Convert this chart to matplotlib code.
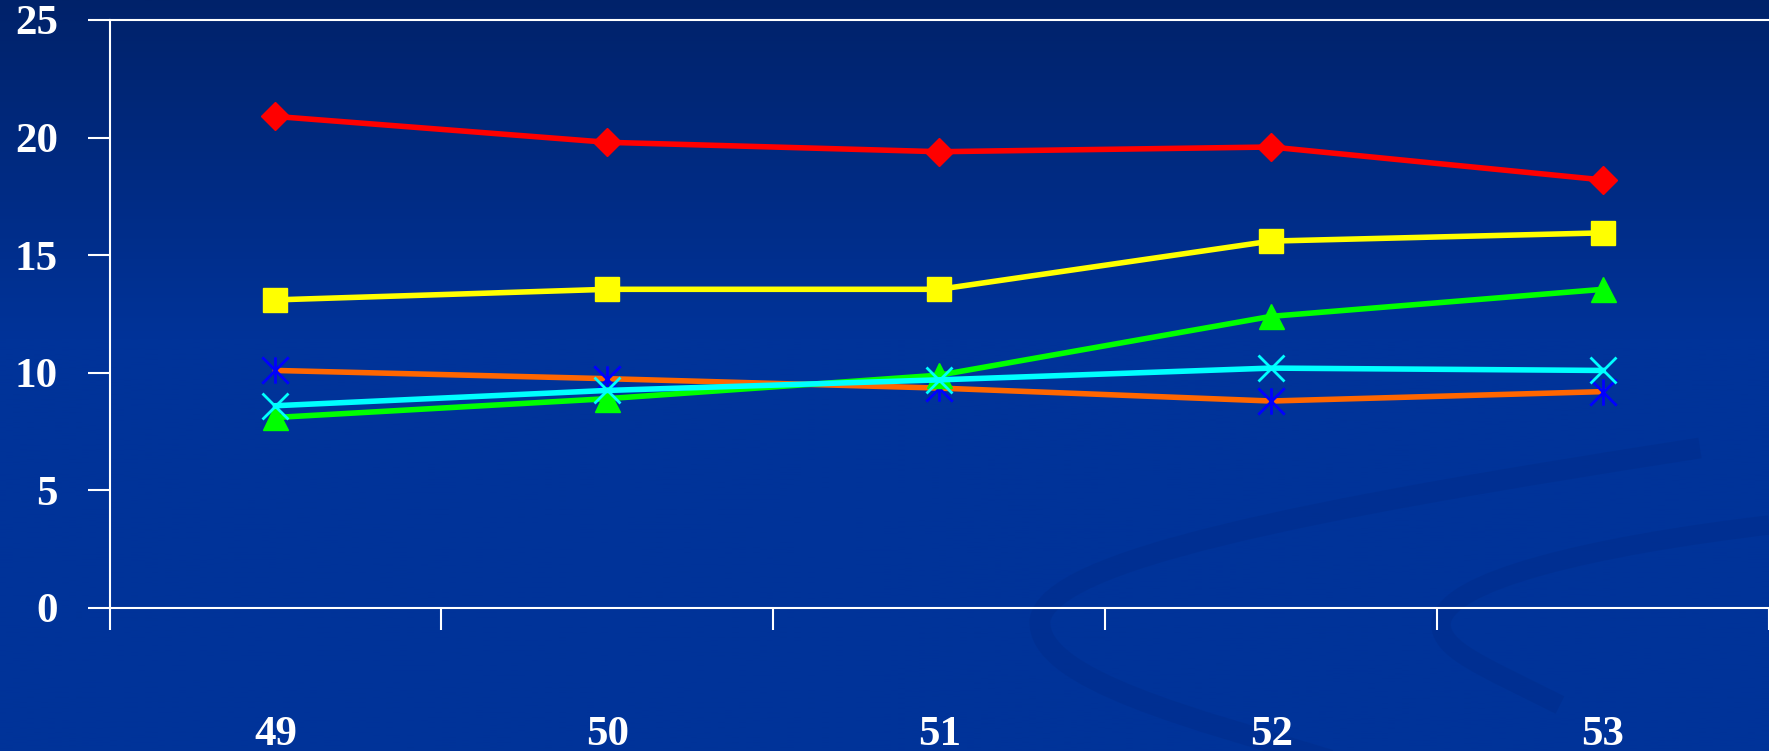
import matplotlib.pyplot as plt
import numpy as np
from matplotlib.path import Path
from matplotlib.patches import PathPatch

# 数据部分
categories = ["49", "50", "51", "52", "53"]
red_vals = [20.9, 19.8, 19.4, 19.6, 18.2]
yellow_vals = [13.1, 13.55, 13.55, 15.6, 15.95]
green_vals = [8.1, 8.9, 9.9, 12.4, 13.55]
cyan_vals = [8.6, 9.25, 9.7, 10.2, 10.1]
orange_vals = [10.1, 9.75, 9.35, 8.8, 9.2]
y_ticks = [0, 5, 10, 15, 20, 25]

plt.rcParams['font.family'] = ['Liberation Serif', 'DejaVu Serif']
plt.rcParams['font.weight'] = 'bold'

W, H = 1769, 751
fig = plt.figure(figsize=(W / 100, H / 100), dpi=100)

# 背景渐变 + 装饰弧线
bg = fig.add_axes([0, 0, 1, 1], zorder=-10)
bg.set_xlim(0, W)
bg.set_ylim(H, 0)
bg.axis('off')
t = np.clip(np.linspace(0, 1, 300) / 0.45, 0, 1)
top = np.array([0x00, 0x22, 0x6a]) / 255
bot = np.array([0x00, 0x33, 0x99]) / 255
grad = top[None, :] * (1 - t[:, None]) + bot[None, :] * t[:, None]
bg.imshow(grad[:, None, :], extent=(0, W, H, 0), aspect='auto')

swoosh_color = '#002a85'
C4 = Path.CURVE4
band1 = Path([(1700, 448), (1300, 510), (1050, 560), (1040, 620),
              (1035, 680), (1200, 720), (1330, 760)],
             [Path.MOVETO, C4, C4, C4, C4, C4, C4])
band2 = Path([(1769, 525), (1600, 545), (1440, 580), (1441, 625),
              (1442, 650), (1480, 665), (1560, 705)],
             [Path.MOVETO, C4, C4, C4, C4, C4, C4])
for p, lw in [(band1, 15), (band2, 14)]:
    bg.add_patch(PathPatch(p, fill=False, edgecolor=swoosh_color, lw=lw,
                           capstyle='butt', alpha=0.35))

# 主坐标轴
ax = fig.add_axes([109.5 / W, 1 - 608 / H, 1 - 109.5 / W, (608 - 20) / H])
ax.patch.set_alpha(0)
x = np.arange(len(categories))

star = Path([(0, -1), (0, 1), (-1, -1), (1, 1), (-1, 1), (1, -1)],
            [Path.MOVETO, Path.LINETO] * 3)

lw = 4
ax.plot(x, red_vals, color='#ff0000', lw=lw, marker='D', ms=14,
        mec='#ff0000', mfc='#ff0000')
ax.plot(x, yellow_vals, color='#ffff00', lw=lw, marker='s', ms=17,
        mec='#ffff00', mfc='#ffff00')
ax.plot(x, orange_vals, color='#ff6600', lw=lw, marker=star, ms=19,
        mec='#0000ff', mfc='none', mew=2)
ax.plot(x, green_vals, color='#00ff00', lw=lw, marker='^', ms=18,
        mec='#00ff00', mfc='#00ff00')
ax.plot(x, cyan_vals, color='#00ffff', lw=lw, marker='x', ms=19,
        mec='#00ffff', mew=2)

ax.set_xlim(-0.5, len(categories) - 0.5)
ax.set_ylim(0, 25)
ax.set_yticks(y_ticks)
ax.set_xticks(x)
ax.set_xticklabels(categories)
ax.set_xticks(np.arange(len(categories) + 1) - 0.5, minor=True)

for s in ['left', 'bottom', 'top']:
    ax.spines[s].set_color('white')
    ax.spines[s].set_linewidth(1.5)
ax.spines['right'].set_visible(False)

ax.tick_params(axis='y', colors='white', length=16, width=1.5, pad=21,
               labelsize=31)
ax.tick_params(axis='x', which='major', length=0, pad=78, colors='white',
               labelsize=31)
ax.tick_params(axis='x', which='minor', length=16, width=1.5, colors='white')
for lab in ax.get_xticklabels() + ax.get_yticklabels():
    lab.set_fontweight('bold')

fig.savefig('out.png', dpi=100)
